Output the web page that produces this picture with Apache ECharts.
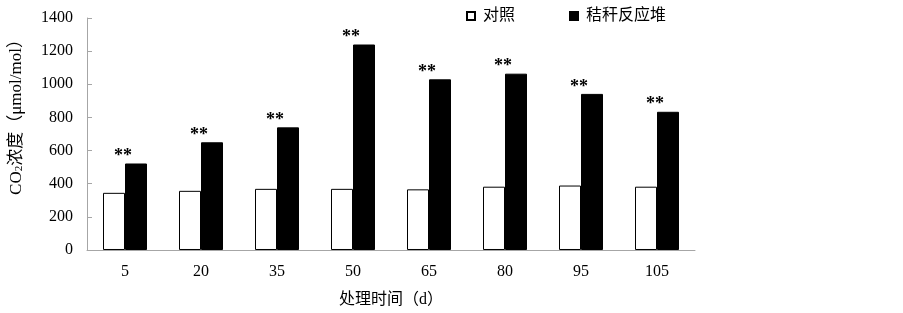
<!DOCTYPE html>
<html>
<head>
<meta charset="utf-8">
<script src="https://cdn.jsdelivr.net/npm/echarts@6/dist/echarts.min.js"></script>
<style>
  html, body { margin: 0; padding: 0; background: #fff; }
  #chart { width: 903px; height: 313px; }
</style>
</head>
<body>
<div id="chart"></div>
<script>
const days = ["5", "20", "35", "50", "65", "80", "95", "105"];
const controlVals = [345, 357, 369, 369, 366, 382, 389, 382];
const reactorVals = [522, 650, 740, 1240, 1030, 1064, 942, 834];
const sigMarks = ["**", "**", "**", "**", "**", "**", "**", "**"];
const yTicks = { min: 0, max: 1400, step: 200 };

const FONT = "'Liberation Serif', 'Noto Sans CJK SC', serif";
const AXIS_GRAY = "#a6a6a6";

const chart = echarts.init(document.getElementById("chart"));

chart.setOption({
  backgroundColor: "#fff",
  animation: false,
  grid: { left: 87, right: 208, top: 18, bottom: 61 },
  legend: {
    left: 461,
    top: 3,
    itemWidth: 8,
    itemHeight: 8,
    itemGap: 54,
    textStyle: { fontFamily: FONT, fontSize: 16, color: "#000", padding: [0, 0, 0, 3] },
    data: [
      { name: "对照", icon: "rect" },
      { name: "秸秆反应堆", icon: "rect" },
    ],
  },
  xAxis: {
    type: "category",
    data: days,
    name: "处理时间（d）",
    nameLocation: "middle",
    nameGap: 42,
    nameTextStyle: { fontFamily: FONT, fontSize: 16, color: "#000" },
    axisLine: { lineStyle: { color: AXIS_GRAY, width: 1 } },
    axisTick: { inside: true, length: 5, lineStyle: { color: AXIS_GRAY } },
    axisLabel: { fontFamily: FONT, fontSize: 16, color: "#000", margin: 14 },
  },
  yAxis: {
    type: "value",
    min: yTicks.min,
    max: yTicks.max,
    interval: yTicks.step,
    name: "CO{sub|2}浓度（μmol/mol）",
    nameLocation: "middle",
    nameRotate: 90,
    nameGap: 62,
    nameTextStyle: {
      fontFamily: FONT, fontSize: 17, color: "#000",
      padding: [0, 0, 0, 42],
      rich: { sub: { fontFamily: FONT, fontSize: 11, color: "#000", verticalAlign: "bottom", padding: [6, 0, 0, 0] } },
    },
    axisLine: { show: true, lineStyle: { color: AXIS_GRAY, width: 1 } },
    axisTick: { show: true, inside: true, length: 5, lineStyle: { color: AXIS_GRAY } },
    axisLabel: { fontFamily: FONT, fontSize: 16, color: "#000", margin: 14, formatter: (v) => String(v) },
    splitLine: { show: false },
  },
  series: [
    {
      name: "对照",
      type: "bar",
      data: controlVals,
      barWidth: 22,
      barGap: "0%",
      itemStyle: { color: "#fff", borderColor: "#000", borderWidth: 1 },
    },
    {
      name: "秸秆反应堆",
      type: "bar",
      data: reactorVals,
      barWidth: 22,
      barGap: "0%",
      itemStyle: { color: "#000", borderColor: "#000", borderWidth: 1 },
      label: {
        show: true,
        position: "top",
        distance: -2,
        offset: [-13, 0],
        formatter: (p) => sigMarks[p.dataIndex],
        fontFamily: FONT,
        fontSize: 18,
        fontWeight: "bold",
        color: "#000",
      },
    },
  ],
});
</script>
</body>
</html>
